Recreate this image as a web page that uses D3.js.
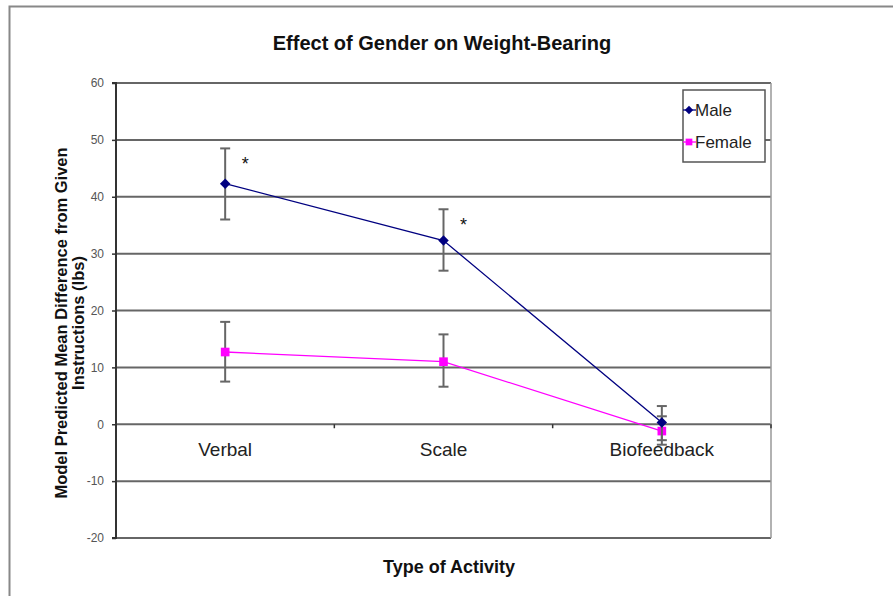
<!DOCTYPE html>
<html><head><meta charset="utf-8">
<script src="https://cdn.jsdelivr.net/npm/d3@7"></script>
<style>body{margin:0;background:#fff;font-family:"Liberation Sans",Arial,sans-serif;}</style>
</head><body><svg id="c" width="893" height="596"></svg>
<script>
const categories = ["Verbal", "Scale", "Biofeedback"];
const maleValues = [42.3, 32.3, 0.3];
const maleLow = [36.0, 27.0, -2.8];
const maleHigh = [48.5, 37.8, 3.2];
const femaleValues = [12.7, 11.0, -1.2];
const femaleLow = [7.5, 6.6, -3.6];
const femaleHigh = [18.0, 15.8, 1.4];
const yTicks = [-20, -10, 0, 10, 20, 30, 40, 50, 60];
const significant = [true, true, false];

const svg = d3.select("#c");
const L = 116, R = 771, T = 83, B = 538;
const x = d3.scaleBand().domain(categories).range([L, R]);
const y = d3.scaleLinear().domain([-20, 60]).range([B, T]);
const diamond = d3.symbolDiamond2 || d3.symbolDiamond;

// outer frame
svg.append("path").attr("d", "M9.5,596V6.5H893").attr("fill", "none").attr("stroke", "#888").attr("stroke-width", 2);

// gridlines
svg.append("g").selectAll("line").data(yTicks).join("line")
  .attr("x1", L).attr("x2", R).attr("y1", d => y(d)).attr("y2", d => y(d))
  .attr("stroke", "#666").attr("stroke-width", 2);
// right border
svg.append("line").attr("x1", R).attr("x2", R).attr("y1", T).attr("y2", B).attr("stroke", "#999").attr("stroke-width", 1.5);

// y axis
const ya = svg.append("g").attr("transform", `translate(${L},0)`)
  .call(d3.axisLeft(y).tickValues(yTicks).tickFormat(d => String(d)).tickSize(4).tickPadding(8));
ya.select(".domain").attr("stroke", "#333").attr("stroke-width", 2).attr("d", `M-4,${T}H0V${B}H-4`);
ya.selectAll(".tick line").attr("stroke", "#333").attr("stroke-width", 1.5);
ya.attr("font-size", 12).attr("font-family", "Liberation Sans, Arial");
ya.selectAll("text").attr("fill", "#555");

// x axis at 0
const xa = svg.append("g").attr("transform", `translate(0,${y(0)})`);
xa.selectAll("line.tk").data([L + x.bandwidth(), L + 2 * x.bandwidth(), R]).join("line")
  .attr("x1", d => d).attr("x2", d => d).attr("y1", 0).attr("y2", 4).attr("stroke", "#333").attr("stroke-width", 1.5);
xa.selectAll("text").data(categories).join("text")
  .attr("x", d => x(d) + x.bandwidth() / 2).attr("y", 32).attr("text-anchor", "middle")
  .attr("font-size", 19).attr("fill", "#222").text(d => d);

// lines and error bars
const cx = d => x(d) + x.bandwidth() / 2;
function drawSeries(vals, lo, hi, color, shape, size) {
  const g = svg.append("g");
  g.selectAll("g.eb").data(categories).join("g").each(function (c, i) {
    const e = d3.select(this);
    e.append("line").attr("x1", cx(c)).attr("x2", cx(c)).attr("y1", y(lo[i])).attr("y2", y(hi[i])).attr("stroke", "#666").attr("stroke-width", 2);
    [lo[i], hi[i]].forEach(v => e.append("line").attr("x1", cx(c) - 5).attr("x2", cx(c) + 5).attr("y1", y(v)).attr("y2", y(v)).attr("stroke", "#666").attr("stroke-width", 2));
  });
  g.append("path").datum(vals).attr("fill", "none").attr("stroke", color).attr("stroke-width", 1.3)
    .attr("d", d3.line().x((d, i) => cx(categories[i])).y(d => y(d)));
  g.selectAll("path.m").data(vals).join("path")
    .attr("transform", (d, i) => `translate(${cx(categories[i])},${y(d)})`)
    .attr("d", d3.symbol().type(shape).size(size))
    .attr("fill", color);
}
drawSeries(femaleValues, femaleLow, femaleHigh, "#ff00ff", d3.symbolSquare, 75);
drawSeries(maleValues, maleLow, maleHigh, "#000080", diamond, 70);

// asterisks
svg.selectAll("text.ast").data(categories.filter((c, i) => significant[i])).join("text")
  .attr("x", d => cx(d) + 20).attr("y", (d) => y(maleHigh[categories.indexOf(d)]) + 22)
  .attr("font-size", 18).attr("text-anchor", "middle").attr("fill", "#111").text("*");

// legend
const lg = svg.append("g").attr("transform", "translate(683,90)");
lg.append("rect").attr("width", 82).attr("height", 72).attr("fill", "#fff").attr("stroke", "#555").attr("stroke-width", 1.5);
[["Male", "#000080", diamond, 45], ["Female", "#ff00ff", d3.symbolSquare, 45]].forEach((s, i) => {
  const yy = 20 + i * 32;
  lg.append("line").attr("x1", 0).attr("x2", 13).attr("y1", yy).attr("y2", yy).attr("stroke", s[1]).attr("stroke-width", 1.3);
  lg.append("path").attr("transform", `translate(6,${yy})`).attr("d", d3.symbol().type(s[2]).size(s[3])).attr("fill", s[1]);
  lg.append("text").attr("x", 12).attr("y", yy + 6).attr("font-size", 17).attr("fill", "#222").text(s[0]);
});

// titles
svg.append("text").attr("x", 442).attr("y", 50).attr("text-anchor", "middle").attr("font-size", 20).attr("font-weight", "bold").attr("fill", "#111").text("Effect of Gender on Weight-Bearing");
svg.append("text").attr("x", 449).attr("y", 573).attr("text-anchor", "middle").attr("font-size", 18).attr("font-weight", "bold").attr("fill", "#111").text("Type of Activity");
const yt = svg.append("text").attr("transform", "translate(0,323) rotate(-90)").attr("text-anchor", "middle").attr("font-size", 16.5).attr("font-weight", "bold").attr("fill", "#111");
yt.append("tspan").attr("x", 0).attr("y", 67).text("Model Predicted Mean Difference from Given");
yt.append("tspan").attr("x", 0).attr("y", 84).text("Instructions (lbs)");
</script></body></html>
